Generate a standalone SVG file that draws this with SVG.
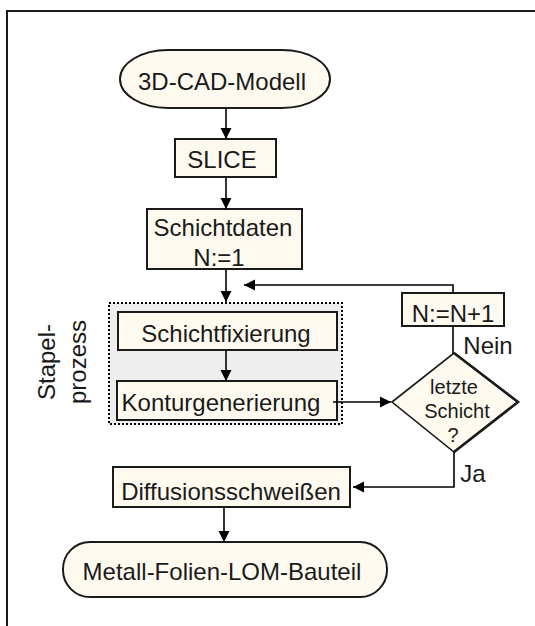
<svg xmlns="http://www.w3.org/2000/svg" width="535" height="626" viewBox="0 0 535 626">
<defs>
<marker id="ah" markerUnits="userSpaceOnUse" markerWidth="12" markerHeight="12" refX="11" refY="6" orient="auto">
<path d="M0,0.5 L11,6 L0,11.5 z" fill="#000"/>
</marker>
<style>
.box{fill:#fffaf0;stroke:#1a1a1a;stroke-width:2}
.t{font-family:"Liberation Sans",Arial,sans-serif;font-size:24px;fill:#1a1a1a;text-anchor:middle}
.s{font-size:20px}
.c{fill:none;stroke:#000;stroke-width:1.6}
</style>
</defs>
<rect width="535" height="626" fill="#fff"/>
<path d="M7,626 V11 H535" fill="none" stroke="#1a1a1a" stroke-width="2"/>

<g id="stapel">
<rect x="109" y="303" width="233" height="121" fill="#eeeeee" stroke="#000" stroke-width="2" stroke-dasharray="2,2"/>
<text class="t" font-size="23" transform="translate(0,362) rotate(-90)"><tspan x="0" y="55">Stapel-</tspan><tspan x="0" y="86">prozess</tspan></text>
</g>

<g id="cad">
<rect class="box" x="120" y="50" width="210" height="58" rx="48" ry="29"/>
<text class="t" x="222" y="90">3D-CAD-Modell</text>
</g>
<g id="slice">
<rect class="box" x="175" y="139" width="101" height="38"/>
<text class="t" x="222" y="168">SLICE</text>
</g>
<g id="schichtdaten">
<rect class="box" x="147" y="209" width="155" height="60"/>
<text class="t" x="223" y="236">Schichtdaten</text>
<text class="t" x="219" y="266">N:=1</text>
</g>
<g id="schichtfixierung">
<rect class="box" x="118" y="312" width="219" height="38"/>
<text class="t" x="226" y="342">Schichtfixierung</text>
</g>
<g id="kontur">
<rect class="box" x="117" y="381" width="220" height="39"/>
<text class="t" x="221" y="411">Konturgenerierung</text>
</g>
<g id="inc">
<rect class="box" x="402" y="293" width="102" height="33"/>
<text class="t" x="453" y="322">N:=N+1</text>
</g>
<g id="decision">
<polygon points="392,402 454,353 518,402 454,452" fill="#fffaf0" stroke="#1a1a1a" stroke-width="1.6"/>
<path d="M454,353 L518,402 L454,452" fill="none" stroke="#1a1a1a" stroke-width="2.6"/>
<text class="t s" x="454" y="394">letzte</text>
<text class="t s" x="457" y="418">Schicht</text>
<text class="t s" x="453" y="442">?</text>
</g>
<g id="diffusion">
<rect class="box" x="113" y="467" width="237" height="40"/>
<text class="t" x="231" y="500">Diffusionsschweißen</text>
</g>
<g id="bauteil">
<rect class="box" x="63" y="542" width="324" height="55" rx="27" ry="27"/>
<text class="t" x="222" y="580">Metall-Folien-LOM-Bauteil</text>
</g>

<g id="connectors">
<line class="c" x1="226" y1="108" x2="226" y2="139" marker-end="url(#ah)"/>
<line class="c" x1="226" y1="177" x2="226" y2="209" marker-end="url(#ah)"/>
<line class="c" x1="226" y1="269" x2="226" y2="302" marker-end="url(#ah)"/>
<line class="c" x1="226" y1="350" x2="226" y2="381" marker-end="url(#ah)"/>
<line class="c" x1="333" y1="402" x2="391" y2="402" marker-end="url(#ah)"/>
<polyline class="c" points="453,293 453,285 244,285" marker-end="url(#ah)"/>
<line class="c" x1="453" y1="326" x2="453" y2="354"/>
<polyline class="c" points="454,452 454,487 353,487" marker-end="url(#ah)"/>
<line class="c" x1="224" y1="507" x2="224" y2="542" marker-end="url(#ah)"/>
<text class="t" x="488" y="354">Nein</text>
<text class="t" x="473" y="482">Ja</text>
</g>
</svg>
